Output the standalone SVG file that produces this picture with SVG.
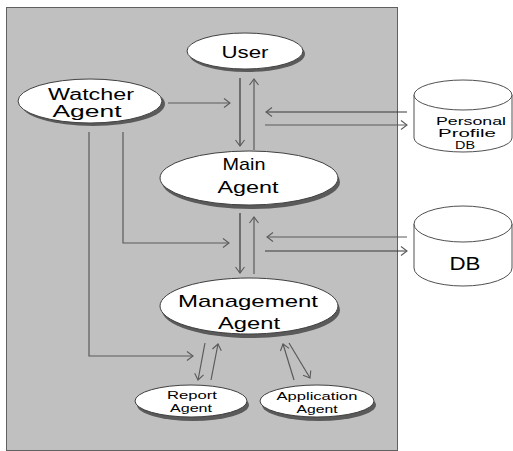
<svg xmlns="http://www.w3.org/2000/svg" width="513" height="451" viewBox="0 0 513 451">
<style>
.bg{fill:#c0c0c0;stroke:#606060;stroke-width:1}
.sh{fill:#5a5a5a}
.el{fill:#fff;stroke:#404040;stroke-width:1}
.cyl{fill:#fff;stroke:#505050;stroke-width:1}
.t{font-family:"Liberation Sans",Arial,sans-serif;fill:#000;text-anchor:middle}
.big{font-size:17px}
.sm{font-size:11.5px}
.c{fill:none;stroke:#5a5a5a;stroke-width:1.2}
.d{stroke:#383838}
</style>
<defs>
<marker id="a" markerUnits="userSpaceOnUse" markerWidth="12" markerHeight="12" refX="8" refY="5" orient="auto" viewBox="0 0 12 10">
<path d="M2,0.5 L8,5 L2,9.5" fill="none" stroke="#5a5a5a" stroke-width="1.1"/>
</marker>
</defs>
<rect class="bg" x="6.5" y="7.5" width="391" height="443"/>
<g id="connectors">
<path class="c" d="M168,103 H230" marker-end="url(#a)"/>
<path class="c d" d="M240,78 V146" marker-end="url(#a)"/>
<path class="c" d="M254,150 V79" marker-end="url(#a)"/>
<path class="c d" d="M407,112 H266" marker-end="url(#a)"/>
<path class="c" d="M265,125 H407" marker-end="url(#a)"/>
<path class="c" d="M123,132 V243 H229" marker-end="url(#a)"/>
<path class="c d" d="M240,213 V273" marker-end="url(#a)"/>
<path class="c" d="M254,274 V217" marker-end="url(#a)"/>
<path class="c" d="M407,237 H267" marker-end="url(#a)"/>
<path class="c d" d="M265,251 H407" marker-end="url(#a)"/>
<path class="c" d="M89,132 V356 H193" marker-end="url(#a)"/>
<path class="c" d="M205,343 L198,380" marker-end="url(#a)"/>
<path class="c" d="M211,380 L218,344" marker-end="url(#a)"/>
<path class="c" d="M294,380 L283,344" marker-end="url(#a)"/>
<path class="c" d="M289,343 L310,378" marker-end="url(#a)"/>
</g>
<g id="user">
<ellipse class="sh" cx="247" cy="54" rx="58" ry="18"/>
<ellipse class="el" cx="245" cy="51" rx="58" ry="18"/>
<text class="t big" x="245" y="58" textLength="47" lengthAdjust="spacingAndGlyphs">User</text>
</g>
<g id="watcher">
<ellipse class="sh" cx="93" cy="104" rx="72" ry="22"/>
<ellipse class="el" cx="90" cy="101" rx="72" ry="22"/>
<text class="t" style="font-size:16px" x="91" y="100" textLength="86" lengthAdjust="spacingAndGlyphs">Watcher</text>
<text class="t" style="font-size:16px" x="87" y="117" textLength="69" lengthAdjust="spacingAndGlyphs">Agent</text>
</g>
<g id="main">
<ellipse class="sh" cx="251" cy="182" rx="89" ry="27"/>
<ellipse class="el" cx="249" cy="178" rx="89" ry="27"/>
<text class="t big" x="244" y="170" textLength="43" lengthAdjust="spacingAndGlyphs">Main</text>
<text class="t big" x="248" y="193" textLength="61" lengthAdjust="spacingAndGlyphs">Agent</text>
</g>
<g id="management">
<ellipse class="sh" cx="251" cy="310" rx="89" ry="28"/>
<ellipse class="el" cx="249" cy="306" rx="89" ry="28"/>
<text class="t big" x="248" y="307" textLength="140" lengthAdjust="spacingAndGlyphs">Management</text>
<text class="t big" x="249" y="329" textLength="62" lengthAdjust="spacingAndGlyphs">Agent</text>
</g>
<g id="report">
<ellipse class="sh" cx="193" cy="405" rx="56" ry="16"/>
<ellipse class="el" cx="191" cy="401" rx="56" ry="16"/>
<text class="t sm" x="192" y="399" textLength="50" lengthAdjust="spacingAndGlyphs">Report</text>
<text class="t sm" x="191" y="412" textLength="42" lengthAdjust="spacingAndGlyphs">Agent</text>
</g>
<g id="application">
<ellipse class="sh" cx="319" cy="405" rx="57" ry="16"/>
<ellipse class="el" cx="317" cy="401" rx="57" ry="16"/>
<text class="t sm" x="317" y="400" textLength="81" lengthAdjust="spacingAndGlyphs">Application</text>
<text class="t sm" x="317" y="413" textLength="41" lengthAdjust="spacingAndGlyphs">Agent</text>
</g>
<g id="personal-db">
<path class="cyl" d="M414,95 V138 A49,14 0 0 0 512,138 V95"/>
<ellipse class="cyl" cx="463" cy="95" rx="49" ry="15"/>
<text class="t" style="font-size:11px" x="471" y="125" textLength="70" lengthAdjust="spacingAndGlyphs">Personal</text>
<text class="t" style="font-size:11px" x="467" y="137" textLength="58" lengthAdjust="spacingAndGlyphs">Profile</text>
<text class="t" style="font-size:11px" x="465" y="149" textLength="20" lengthAdjust="spacingAndGlyphs">DB</text>
</g>
<g id="db">
<path class="cyl" d="M414,224 V268 A49,18 0 0 0 512,268 V224"/>
<ellipse class="cyl" cx="463" cy="224" rx="49" ry="18"/>
<text class="t" style="font-size:19px" x="465" y="270" textLength="31" lengthAdjust="spacingAndGlyphs">DB</text>
</g>
</svg>
